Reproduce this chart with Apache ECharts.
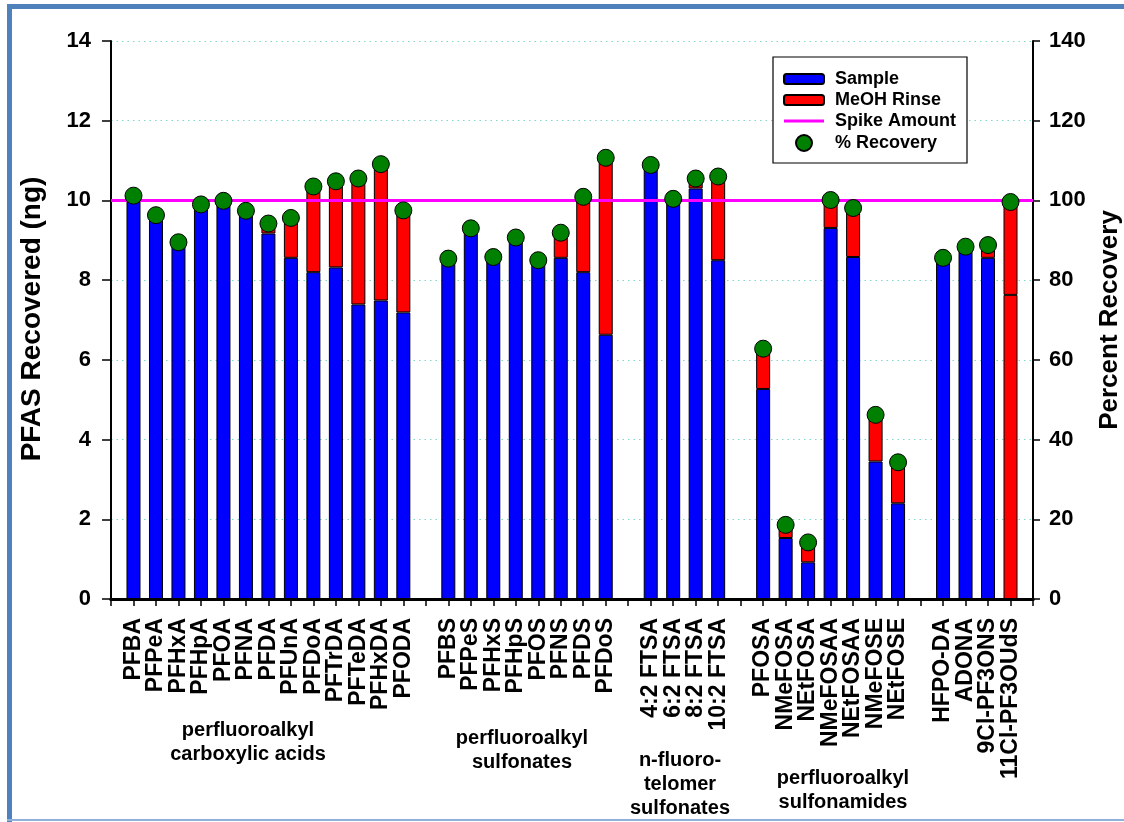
<!DOCTYPE html>
<html>
<head>
<meta charset="utf-8">
<script src="https://cdn.jsdelivr.net/npm/echarts@6/dist/echarts.min.js"></script>
<style>
  html, body { margin: 0; padding: 0; background: #ffffff; }
  #chart { width: 1124px; height: 822px; }
</style>
</head>
<body>
<div id="chart"></div>
<script>
// Category slots along the x axis; '' marks the spacer slots between compound groups
const categories = [
  '',
  'PFBA', 'PFPeA', 'PFHxA', 'PFHpA', 'PFOA', 'PFNA', 'PFDA', 'PFUnA', 'PFDoA', 'PFTrDA', 'PFTeDA', 'PFHxDA', 'PFODA',
  '',
  'PFBS', 'PFPeS', 'PFHxS', 'PFHpS', 'PFOS', 'PFNS', 'PFDS', 'PFDoS',
  '',
  '4:2 FTSA', '6:2 FTSA', '8:2 FTSA', '10:2 FTSA',
  '',
  'PFOSA', 'NMeFOSA', 'NEtFOSA', 'NMeFOSAA', 'NEtFOSAA', 'NMeFOSE', 'NEtFOSE',
  '',
  'HFPO-DA', 'ADONA', '9Cl-PF3ONS', '11Cl-PF3OUdS',
  ''
];

// Mass recovered in the sample (ng)
const sampleNg = [
  null,
  10.12, 9.63, 8.95, 9.90, 9.99, 9.74, 9.17, 8.56, 8.20, 8.32, 7.39, 7.49, 7.19,
  null,
  8.54, 9.30, 8.58, 9.07, 8.50, 8.56, 8.20, 6.63,
  null,
  10.89, 10.04, 10.30, 8.50,
  null,
  5.27, 1.53, 0.92, 9.31, 8.58, 3.45, 2.40,
  null,
  8.56, 8.84, 8.56, 7.63,
  null
];

// Mass recovered in the methanol rinse (ng)
const rinseNg = [
  null,
  0, 0, 0, 0, 0, 0, 0.25, 1.00, 2.15, 2.16, 3.16, 3.42, 2.56,
  null,
  0, 0, 0, 0, 0, 0.63, 1.89, 4.44,
  null,
  0, 0, 0.25, 2.10,
  null,
  1.01, 0.33, 0.50, 0.70, 1.23, 1.17, 1.03,
  null,
  0, 0, 0.32, 2.33,
  null
];

// Total percent recovery
const recoveryPct = [
  null,
  101.2, 96.3, 89.5, 99.0, 99.9, 97.4, 94.2, 95.6, 103.5, 104.8, 105.5, 109.1, 97.5,
  null,
  85.4, 93.0, 85.8, 90.7, 85.0, 91.9, 100.9, 110.7,
  null,
  108.9, 100.4, 105.5, 106.0,
  null,
  62.8, 18.6, 14.2, 100.1, 98.1, 46.2, 34.3,
  null,
  85.6, 88.4, 88.8, 99.6,
  null
];

// Amount spiked (ng)
const spikeNg = 10;

// Compounds whose sample portion is shown in the rinse colour
const redSample = ['11Cl-PF3OUdS'];

// Group captions under the compound names
const groups = [
  { text: 'perfluoroalkyl\ncarboxylic acids', x: 248, y: 718 },
  { text: 'perfluoroalkyl\nsulfonates', x: 522, y: 726 },
  { text: 'n-fluoro-\ntelomer\nsulfonates', x: 680, y: 748 },
  { text: 'perfluoroalkyl\nsulfonamides', x: 843, y: 766 }
];

const FONT = "'Liberation Sans', Arial, Helvetica, sans-serif";
const BLUE = '#0000ff', RED = '#ff0000', MAGENTA = '#ff00ff', GREEN = '#008000';
const FRAME = '#4f81bd';

const blank = v => (v === null ? '-' : v);

const sampleData = categories.map((c, i) => {
  const v = blank(sampleNg[i]);
  if (redSample.includes(c)) return { value: v, itemStyle: { color: RED } };
  return v;
});

const legendText = { fontFamily: FONT, fontWeight: 'bold', fontSize: 18, lineHeight: 18, color: '#000', padding: [0, 0, 0, 6] };

const chart = echarts.init(document.getElementById('chart'), null, { renderer: 'canvas' });

chart.setOption({
  backgroundColor: '#ffffff',
  animation: false,
  textStyle: { fontFamily: FONT },
  grid: { left: 111, right: 91, top: 41, bottom: 223, containLabel: false },
  legend: [
    {
      data: [
        'Sample',
        'MeOH Rinse',
        { name: 'Spike Amount', icon: 'path://M0,0 H40 V3 H0 Z' }
      ],
      orient: 'vertical', left: 783, top: 70, padding: 0,
      itemWidth: 40, itemHeight: 10, itemGap: 3,
      textStyle: legendText,
      selectedMode: false
    },
    {
      data: ['% Recovery'],
      orient: 'vertical', left: 795, top: 134, padding: 0,
      itemWidth: 16, itemHeight: 16, itemGap: 3,
      textStyle: Object.assign({}, legendText, { padding: [0, 0, 0, 18] }),
      selectedMode: false
    }
  ],
  xAxis: [
    {
      type: 'category', data: categories, boundaryGap: false,
      axisLine: { show: true, lineStyle: { color: '#000', width: 3 } },
      axisTick: { show: true, interval: 0, inside: false, length: 7, lineStyle: { color: '#000', width: 1.5 } },
      axisLabel: {
        interval: 0, rotate: 90, margin: 19,
        fontFamily: FONT, fontWeight: 'bold', fontSize: 23, color: '#000'
      },
      splitLine: { show: false }
    },
    {
      type: 'category', data: categories, boundaryGap: false, position: 'top',
      axisLine: { show: true, lineStyle: { color: '#000', width: 3 } },
      axisTick: { show: false }, axisLabel: { show: false }, splitLine: { show: false }
    }
  ],
  yAxis: [
    {
      type: 'value', min: 0, max: 14, interval: 2, position: 'left',
      axisLine: { show: true, lineStyle: { color: '#000', width: 2 } },
      axisTick: { show: true, length: 9, lineStyle: { color: '#000', width: 1.5 } },
      axisLabel: { margin: 20, fontFamily: FONT, fontWeight: 'bold', fontSize: 22, color: '#000' },
      splitLine: { show: true, lineStyle: { color: '#7fd9c6', type: [1.5, 4], width: 1.2 } }
    },
    {
      type: 'value', min: 0, max: 140, interval: 20, position: 'right',
      axisLine: { show: true, lineStyle: { color: '#000', width: 2 } },
      axisTick: { show: true, length: 7, lineStyle: { color: '#000', width: 1.5 } },
      axisLabel: { margin: 16, fontFamily: FONT, fontWeight: 'bold', fontSize: 22, color: '#000' },
      splitLine: { show: false }
    }
  ],
  series: [
    {
      name: 'Sample', type: 'bar', stack: 'ng', barWidth: 14,
      itemStyle: { color: BLUE, borderColor: '#000', borderWidth: 1 },
      data: sampleData
    },
    {
      name: 'MeOH Rinse', type: 'bar', stack: 'ng', barWidth: 14,
      itemStyle: { color: RED, borderColor: '#000', borderWidth: 1 },
      data: rinseNg.map(blank)
    },
    {
      name: 'Spike Amount', type: 'line', symbol: 'none', showSymbol: false,
      lineStyle: { color: MAGENTA, width: 3 }, itemStyle: { color: MAGENTA },
      data: categories.map(() => spikeNg), z: 3
    },
    {
      name: '% Recovery', type: 'scatter', yAxisIndex: 1, symbol: 'circle', symbolSize: 17,
      itemStyle: { color: GREEN, borderColor: '#000', borderWidth: 1, opacity: 1 },
      data: recoveryPct.map(blank), z: 5
    }
  ],
  graphic: [
    // page frame
    { type: 'rect', shape: { x: 7, y: 4, width: 5, height: 818 }, style: { fill: FRAME }, z: 10 },
    { type: 'rect', shape: { x: 7, y: 4, width: 1117, height: 5 }, style: { fill: FRAME }, z: 10 },
    { type: 'rect', shape: { x: 7, y: 819, width: 1117, height: 2 }, style: { fill: '#8fb0d8' }, z: 10 },
    // legend box
    { type: 'rect', shape: { x: 773, y: 57, width: 194, height: 106 }, style: { fill: '#fff', stroke: '#000', lineWidth: 1.2 }, z: 3 },
    // axis titles
    {
      type: 'text', x: 32, y: 319, rotation: Math.PI / 2,
      style: { text: 'PFAS Recovered (ng)', font: 'bold 28px ' + FONT, fill: '#000', textAlign: 'center', textVerticalAlign: 'middle' }
    },
    {
      type: 'text', x: 1110, y: 320, rotation: Math.PI / 2,
      style: { text: 'Percent Recovery', font: 'bold 26px ' + FONT, fill: '#000', textAlign: 'center', textVerticalAlign: 'middle' }
    }
  ].concat(groups.map(g => ({
    type: 'text', x: g.x, y: g.y,
    style: { text: g.text, font: 'bold 20px ' + FONT, fill: '#000', textAlign: 'center', textVerticalAlign: 'top', lineHeight: 24 }
  })))
});
</script>
</body>
</html>
